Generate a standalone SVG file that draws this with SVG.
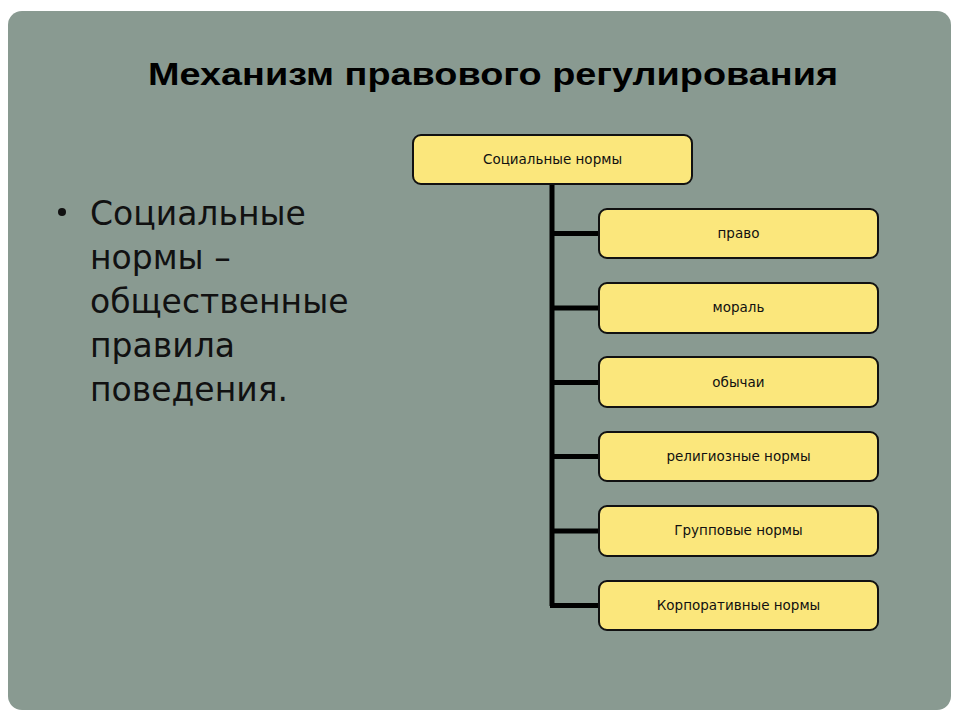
<svg xmlns="http://www.w3.org/2000/svg" width="960" height="720" viewBox="0 0 960 720">
<style>
.box{fill:#fbe77c;stroke:#111;stroke-width:2}
.bt{font-family:"DejaVu Sans",sans-serif;font-size:13.5px;fill:#111;text-anchor:middle}
.body{font-family:"DejaVu Sans",sans-serif;font-size:33px;fill:#111}
.conn{stroke:#000;stroke-width:5;fill:none}
</style>
<rect x="0" y="0" width="960" height="720" fill="#ffffff"/>
<rect x="8" y="11" width="943" height="699" rx="14" fill="#899a91"/>
<text x="493" y="85" font-family="Liberation Sans, sans-serif" font-weight="bold" font-size="32" text-anchor="middle" fill="#000" textLength="690" lengthAdjust="spacingAndGlyphs">Механизм правового регулирования</text>
<g id="bullet">
<circle cx="62" cy="212" r="4" fill="#111"/>
<text class="body" x="90" y="225">Социальные</text>
<text class="body" x="90" y="269">нормы –</text>
<text class="body" x="90" y="313">общественные</text>
<text class="body" x="90" y="357">правила</text>
<text class="body" x="90" y="401">поведения.</text>
</g>
<g id="connectors">
<path class="conn" d="M552 184 V606"/>
<path class="conn" d="M550 233.5 H599 M550 308 H599 M550 382.5 H599 M550 456.5 H599 M550 531 H599 M550 605.5 H599"/>
</g>
<g id="root"><rect class="box" x="413" y="135" width="279" height="49" rx="8"/><text class="bt" x="552.5" y="164">Социальные нормы</text></g>
<g id="n1"><rect class="box" x="599" y="209" width="279" height="49" rx="8"/><text class="bt" x="738.5" y="238">право</text></g>
<g id="n2"><rect class="box" x="599" y="283" width="279" height="50" rx="8"/><text class="bt" x="738.5" y="312">мораль</text></g>
<g id="n3"><rect class="box" x="599" y="357" width="279" height="50" rx="8"/><text class="bt" x="738.5" y="387">обычаи</text></g>
<g id="n4"><rect class="box" x="599" y="432" width="279" height="49" rx="8"/><text class="bt" x="738.5" y="461">религиозные нормы</text></g>
<g id="n5"><rect class="box" x="599" y="506" width="279" height="50" rx="8"/><text class="bt" x="738.5" y="535">Групповые нормы</text></g>
<g id="n6"><rect class="box" x="599" y="581" width="279" height="49" rx="8"/><text class="bt" x="738.5" y="610">Корпоративные нормы</text></g>
</svg>
